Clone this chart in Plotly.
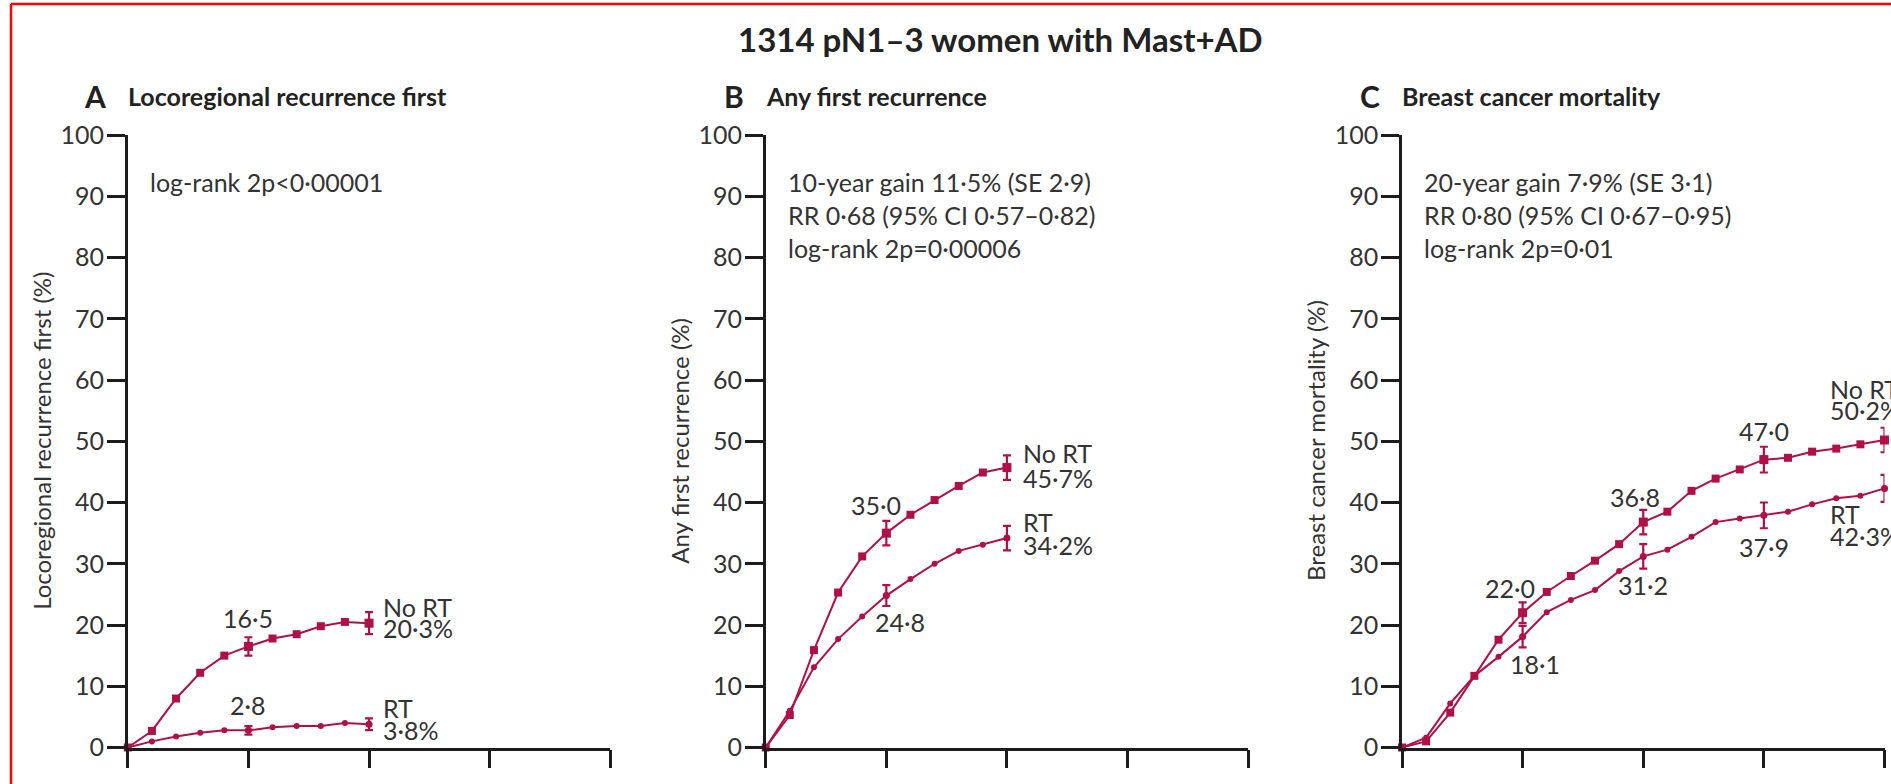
import plotly.graph_objects as go

W, H = 1891, 784

# ---------------- data ----------------
years_10 = list(range(0, 11))
years_20 = list(range(0, 21))

A_noRT = [0, 2.7, 8.0, 12.2, 15.0, 16.5, 17.8, 18.5, 19.8, 20.5, 20.3]
A_RT = [0, 1.0, 1.8, 2.4, 2.8, 2.8, 3.3, 3.5, 3.5, 4.0, 3.8]
A_err_x = [5, 10]
A_noRT_err = [1.5, 1.8]
A_RT_err = [0.7, 0.95]

B_noRT = [0, 5.3, 15.9, 25.3, 31.2, 35.0, 38.0, 40.4, 42.7, 44.9, 45.7]
B_RT = [0, 6.0, 13.1, 17.7, 21.4, 24.8, 27.5, 30.0, 32.1, 33.1, 34.2]
B_err_x = [5, 10]
B_noRT_err = [2.0, 2.0]
B_RT_err = [1.7, 2.0]

C_noRT = [0, 1.0, 5.7, 11.7, 17.6, 22.0, 25.4, 28.0, 30.5, 33.2, 36.8,
          38.5, 41.9, 43.9, 45.4, 47.0, 47.3, 48.3, 48.8, 49.5, 50.2]
C_RT = [0, 1.6, 7.2, 11.7, 14.8, 18.1, 22.1, 24.1, 25.7, 28.8, 31.2,
        32.3, 34.4, 36.8, 37.4, 37.9, 38.5, 39.7, 40.7, 41.1, 42.3]
C_err_x = [5, 10, 15, 20]
C_noRT_err = [1.7, 2.0, 2.1, 2.0]
C_RT_err = [1.75, 2.0, 2.1, 2.2]

x_ticks = [0, 5, 10, 15, 20]
y_ticks = list(range(0, 101, 10))

title_text = "1314 pN1–3 women with Mast+AD"
panel_letters = ["A", "B", "C"]
panel_titles = ["Locoregional recurrence first", "Any first recurrence", "Breast cancer mortality"]
y_titles = ["Locoregional recurrence first (%)", "Any first recurrence (%)", "Breast cancer mortality (%)"]
stats_text = [
    ["log-rank 2p<0·00001"],
    ["10-year gain 11·5% (SE 2·9)", "RR 0·68 (95% CI 0·57–0·82)", "log-rank 2p=0·00006"],
    ["20-year gain 7·9% (SE 3·1)", "RR 0·80 (95% CI 0·67–0·95)", "log-rank 2p=0·01"],
]

# ---------------- style ----------------
RED = "#b01048"
AX = "#1c1c1c"
TXT = "#333333"
FONT = "Lato"

def fmt(v):
    return f"{v:.1f}".replace(".", "·")

def px_x(p):
    return p / W

def px_y(p):
    return 1 - p / H

x_left = [127.8, 765.7, 1402.0]
x_w = 482.5
y_bot, y_top = 747.5, 135.0

fig = go.Figure()

panels = [
    (years_10, A_noRT, A_RT, A_err_x, A_noRT_err, A_RT_err),
    (years_10, B_noRT, B_RT, B_err_x, B_noRT_err, B_RT_err),
    (years_20, C_noRT, C_RT, C_err_x, C_noRT_err, C_RT_err),
]

annotations = []
for i, (xs, no, rt, ex, ne, re_) in enumerate(panels):
    sfx = "" if i == 0 else str(i + 1)
    xa, ya = "x" + sfx, "y" + sfx
    fig.add_trace(go.Scatter(x=xs, y=rt, mode="lines+markers", xaxis=xa, yaxis=ya,
                             line=dict(color=RED, width=2),
                             marker=dict(symbol="circle", size=6, color=RED),
                             cliponaxis=False, showlegend=False, hoverinfo="skip"))
    fig.add_trace(go.Scatter(x=xs, y=no, mode="lines+markers", xaxis=xa, yaxis=ya,
                             line=dict(color=RED, width=2),
                             marker=dict(symbol="square", size=8, color=RED),
                             cliponaxis=False, showlegend=False, hoverinfo="skip"))
    ey_no = [no[xs.index(x)] for x in ex]
    ey_rt = [rt[xs.index(x)] for x in ex]
    fig.add_trace(go.Scatter(x=ex, y=ey_no, mode="markers", xaxis=xa, yaxis=ya,
                             marker=dict(symbol="square", size=9, color=RED),
                             error_y=dict(type="data", array=ne, color=RED, thickness=2.2, width=4),
                             cliponaxis=False, showlegend=False, hoverinfo="skip"))
    fig.add_trace(go.Scatter(x=ex, y=ey_rt, mode="markers", xaxis=xa, yaxis=ya,
                             marker=dict(symbol="circle", size=7, color=RED),
                             error_y=dict(type="data", array=re_, color=RED, thickness=2.2, width=4),
                             cliponaxis=False, showlegend=False, hoverinfo="skip"))

    dom_x = [px_x(x_left[i]), px_x(x_left[i] + x_w)]
    dom_y = [px_y(y_bot), px_y(y_top)]
    fig.update_layout(**{
        "xaxis" + sfx: dict(domain=dom_x, range=[0, 20], anchor=ya, showgrid=False, zeroline=False,
                            showline=True, linecolor=AX, linewidth=2.5,
                            ticks="outside", ticklen=18, tickwidth=2.5, tickcolor=AX,
                            tickvals=x_ticks, showticklabels=False, fixedrange=True,
                            automargin=False),
        "yaxis" + sfx: dict(domain=dom_y, range=[0, 100], anchor=xa, showgrid=False, zeroline=False,
                            showline=True, linecolor=AX, linewidth=2.5,
                            ticks="outside", ticklen=18, tickwidth=2.5, tickcolor=AX,
                            tickvals=y_ticks, ticklabelstandoff=-2,
                            tickfont=dict(family=FONT, size=25, color=TXT), fixedrange=True,
                            automargin=False),
    })

    annotations.append(dict(xref="paper", yref="paper", x=px_x(x_left[i] - 20), y=px_y(96),
                            text="<b>" + panel_letters[i] + "</b>", showarrow=False,
                            xanchor="right", yanchor="middle",
                            font=dict(family=FONT, size=30, color="#222")))
    annotations.append(dict(xref="paper", yref="paper", x=px_x(x_left[i] - 2), y=px_y(96),
                            text="<b>" + panel_titles[i] + "</b>", showarrow=False,
                            xanchor="left", yanchor="middle",
                            font=dict(family=FONT, size=25, color="#222")))
    annotations.append(dict(xref="paper", yref="paper", x=px_x(x_left[i] - 87), y=px_y(441),
                            text=y_titles[i], showarrow=False, textangle=-90,
                            xanchor="center", yanchor="middle",
                            font=dict(family=FONT, size=24, color=TXT)))
    for k, line in enumerate(stats_text[i]):
        annotations.append(dict(xref="paper", yref="paper", x=px_x(x_left[i] + 20), y=px_y(182 + 33 * k),
                                text=line, showarrow=False, xanchor="left", yanchor="middle",
                                font=dict(family=FONT, size=25, color=TXT)))

def lab(sfx, x, y, text, xs=0, ys=0, xanchor="center"):
    annotations.append(dict(xref="x" + sfx, yref="y" + sfx, x=x, y=y, text=text, showarrow=False,
                            xshift=xs, yshift=ys, xanchor=xanchor, yanchor="middle",
                            font=dict(family=FONT, size=25, color=TXT)))

lab("", 5, A_noRT[5], fmt(A_noRT[5]), 0, 28)
lab("", 5, A_RT[5], fmt(A_RT[5]), 0, 25)
lab("", 10, A_noRT[10], "No RT", 12, 16, "left")
lab("", 10, A_noRT[10], fmt(A_noRT[10]) + "%", 12, -5, "left")
lab("", 10, A_RT[10], "RT", 12, 16, "left")
lab("", 10, A_RT[10], fmt(A_RT[10]) + "%", 12, -6, "left")
lab("2", 5, B_noRT[5], fmt(B_noRT[5]), -10, 28)
lab("2", 5, B_RT[5], fmt(B_RT[5]), 14, -26)
lab("2", 10, B_noRT[10], "No RT", 14, 15, "left")
lab("2", 10, B_noRT[10], fmt(B_noRT[10]) + "%", 14, -10, "left")
lab("2", 10, B_RT[10], "RT", 14, 16, "left")
lab("2", 10, B_RT[10], fmt(B_RT[10]) + "%", 14, -7, "left")
lab("3", 5, C_noRT[5], fmt(C_noRT[5]), -13, 25)
lab("3", 5, C_RT[5], fmt(C_RT[5]), 12, -27)
lab("3", 10, C_noRT[10], fmt(C_noRT[10]), -8, 25)
lab("3", 10, C_RT[10], fmt(C_RT[10]), 0, -29)
lab("3", 15, C_noRT[15], fmt(C_noRT[15]), 0, 29)
lab("3", 15, C_RT[15], fmt(C_RT[15]), 0, -32)
lab("3", 20, C_noRT[20], "No RT", -57, 51, "left")
lab("3", 20, C_noRT[20], fmt(C_noRT[20]) + "%", -57, 30, "left")
lab("3", 20, C_RT[20], "RT", -57, -26, "left")
lab("3", 20, C_RT[20], fmt(C_RT[20]) + "%", -57, -48, "left")

annotations.append(dict(xref="paper", yref="paper", x=px_x(1000), y=px_y(39), text="<b>" + title_text + "</b>",
                        showarrow=False, xanchor="center", yanchor="middle",
                        font=dict(family=FONT, size=33, color="#222")))

fig.update_layout(
    width=W, height=H, margin=dict(l=0, r=0, t=0, b=0, pad=0, autoexpand=False),
    paper_bgcolor="white", plot_bgcolor="white",
    annotations=annotations,
    shapes=[
        dict(type="line", xref="paper", yref="paper", x0=px_x(11), x1=px_x(11), y0=0, y1=px_y(4),
             line=dict(color="#ff0000", width=2.5)),
        dict(type="line", xref="paper", yref="paper", x0=px_x(11), x1=1, y0=px_y(4), y1=px_y(4),
             line=dict(color="#ff0000", width=2.5)),
    ],
)

post = ("document.documentElement.style.margin='0';document.documentElement.style.padding='0';"
        "document.body.style.margin='0';document.body.style.padding='0';"
        "document.documentElement.style.overflow='hidden';document.body.style.overflow='hidden';")
fig.write_html("out.html", post_script=post, config={"displayModeBar": False})
